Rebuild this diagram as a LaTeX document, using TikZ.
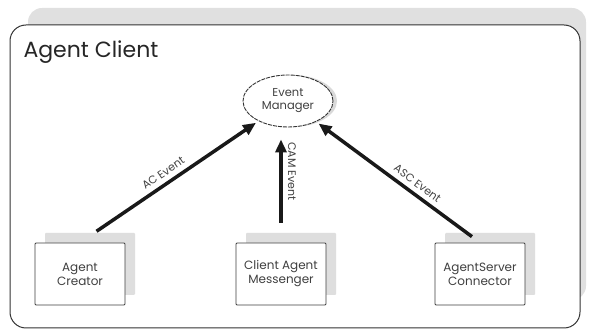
\documentclass[tikz,border=0pt]{standalone}
\usepackage{fontspec}
\setmainfont{Poppins}
\usetikzlibrary{arrows.meta, positioning, shadows, shapes.geometric}

\begin{document}
\begin{tikzpicture}[x=1pt, y=-1pt]
    % Block styles
    \tikzstyle{frame} = [rectangle, draw=black!80, line width=1pt, fill=white, rounded corners=16pt, minimum width=570pt, minimum height=303pt]
    \tikzstyle{block} = [rectangle, draw=black!75, line width=0.9pt, fill=white, rounded corners=1pt, align=center, minimum width=90pt, minimum height=62pt, font=\fontsize{12}{14}\selectfont, text=black!75, drop shadow={shadow xshift=10pt, shadow yshift=10pt, fill=black!13, opacity=1}]
    \tikzstyle{manager} = [ellipse, draw=black!80, line width=0.9pt, dash pattern=on 4pt off 1pt, fill=white, align=center, minimum width=90pt, minimum height=52pt, inner sep=0pt, font=\fontsize{11.5}{13}\selectfont, text=black!75, drop shadow={shadow xshift=4pt, shadow yshift=0pt, fill=black!15, opacity=1}]
    \tikzstyle{event} = [line width=3.5pt, black!90, -{Triangle[length=13pt, width=11pt]}]
    \tikzstyle{evlabel} = [font=\fontsize{11}{13}\selectfont, text=black!75, inner sep=1pt]
    \useasboundingbox (0,0) rectangle (590,331);
    % Frame and its shadow
    \fill[black!12, rounded corners=14pt] (28,8) rectangle (586,300);
    \node[frame] (client) at (295,176.5) {};
    \node[anchor=base west, font=\fontsize{22}{26}\selectfont, text=black!85] (title) at (20,58) {Agent Client};
    % Nodes
    \node[manager] (em) at (288,101) {Event\\Manager};
    \node[block] (ac) at (80,274) {Agent\\Creator};
    \node[block] (cam) at (281,274) {Client Agent\\Messenger};
    \node[block] (asc) at (480,274) {AgentServer\\Connector};
    % Connections
    \draw[event, shorten <=20pt, shorten >=3pt] (ac.north) -- node[evlabel, sloped, above=4pt, pos=0.5] {AC Event} (em);
    \draw[event, shorten <=20pt, shorten >=12pt] (cam.north) -- node[evlabel, pos=0.62, rotate=-90, anchor=south, outer sep=6pt] {CAM Event} (cam.north |- em.south);
    \draw[event, shorten <=10pt, shorten >=3pt] (asc.north) -- node[evlabel, sloped, above=4pt, pos=0.42] {ASC Event} (em);
\end{tikzpicture}
\end{document}
